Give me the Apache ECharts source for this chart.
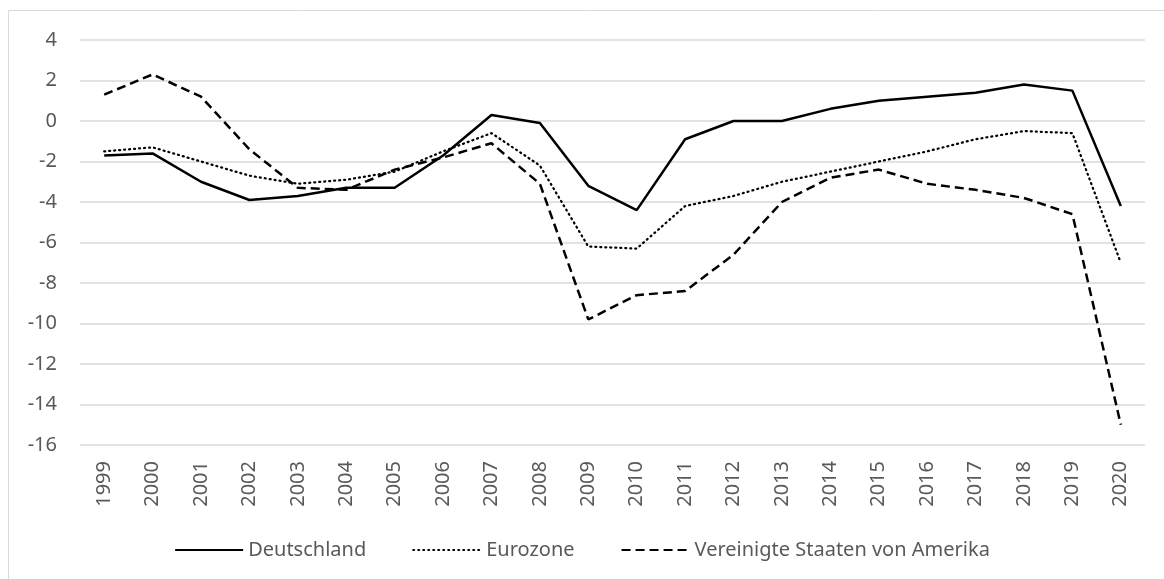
<!DOCTYPE html>
<html>
<head>
<meta charset="utf-8">
<script src="https://cdn.jsdelivr.net/npm/echarts@6/dist/echarts.min.js"></script>
<style>
  html, body { margin: 0; padding: 0; background: #fff; }
  #chart { width: 1164px; height: 579px; }
</style>
</head>
<body>
<div id="chart"></div>
<script>
// Daten
const years = ['1999', '2000', '2001', '2002', '2003', '2004', '2005', '2006', '2007', '2008', '2009',
  '2010', '2011', '2012', '2013', '2014', '2015', '2016', '2017', '2018', '2019', '2020'];
const deutschland = [-1.7, -1.6, -3.0, -3.9, -3.7, -3.3, -3.3, -1.7, 0.3, -0.1, -3.2,
  -4.4, -0.9, 0.0, 0.0, 0.6, 1.0, 1.2, 1.4, 1.8, 1.5, -4.2];
const eurozone = [-1.5, -1.3, -2.0, -2.7, -3.1, -2.9, -2.5, -1.5, -0.6, -2.2, -6.2,
  -6.3, -4.2, -3.7, -3.0, -2.5, -2.0, -1.5, -0.9, -0.5, -0.6, -7.0];
const usa = [1.3, 2.3, 1.2, -1.4, -3.3, -3.4, -2.4, -1.8, -1.1, -3.1, -9.8,
  -8.6, -8.4, -6.6, -4.0, -2.8, -2.4, -3.1, -3.4, -3.8, -4.6, -15.0];

const textColor = '#595959';
const fontFamily = '"Noto Sans", sans-serif';

const myChart = echarts.init(document.getElementById('chart'));

const option = {
  animation: false,
  textStyle: { fontFamily: fontFamily },
  graphic: [{
    type: 'rect',
    shape: { x: 8.5, y: 10.5, width: 1170, height: 600 },
    style: { fill: 'none', stroke: '#d9d9d9', lineWidth: 1 },
    silent: true
  }],
  grid: {
    left: 80,
    right: 19,
    top: 40,
    bottom: 134
  },
  legend: {
    top: 535,
    left: 'center',
    itemWidth: 68,
    itemHeight: 14,
    itemGap: 46,
    itemStyle: { opacity: 0 },
    textStyle: { color: textColor, fontSize: 20, fontFamily: fontFamily },
    data: ['Deutschland', 'Eurozone', 'Vereinigte Staaten von Amerika']
  },
  xAxis: {
    type: 'category',
    data: years,
    boundaryGap: true,
    axisLine: { show: false },
    axisTick: { show: false },
    axisLabel: {
      rotate: 90,
      margin: 16,
      color: textColor,
      fontSize: 20,
      fontFamily: fontFamily
    }
  },
  yAxis: {
    type: 'value',
    min: -16,
    max: 4,
    interval: 2,
    axisLine: { show: false },
    axisTick: { show: false },
    splitLine: { lineStyle: { color: '#d9d9d9', width: 1.5 } },
    axisLabel: {
      margin: 23,
      color: textColor,
      fontSize: 20,
      fontFamily: fontFamily
    }
  },
  series: [
    {
      name: 'Deutschland',
      type: 'line',
      data: deutschland,
      symbol: 'none',
      lineStyle: { color: '#000', width: 2.5, type: 'solid' },
      itemStyle: { color: '#000' }
    },
    {
      name: 'Eurozone',
      type: 'line',
      data: eurozone,
      symbol: 'none',
      lineStyle: { color: '#000', width: 2.25, type: [1, 4], cap: 'round' },
      itemStyle: { color: '#000' }
    },
    {
      name: 'Vereinigte Staaten von Amerika',
      type: 'line',
      data: usa,
      symbol: 'none',
      lineStyle: { color: '#000', width: 2.5, type: [9, 5] },
      itemStyle: { color: '#000' }
    }
  ]
};

myChart.setOption(option);
</script>
</body>
</html>
